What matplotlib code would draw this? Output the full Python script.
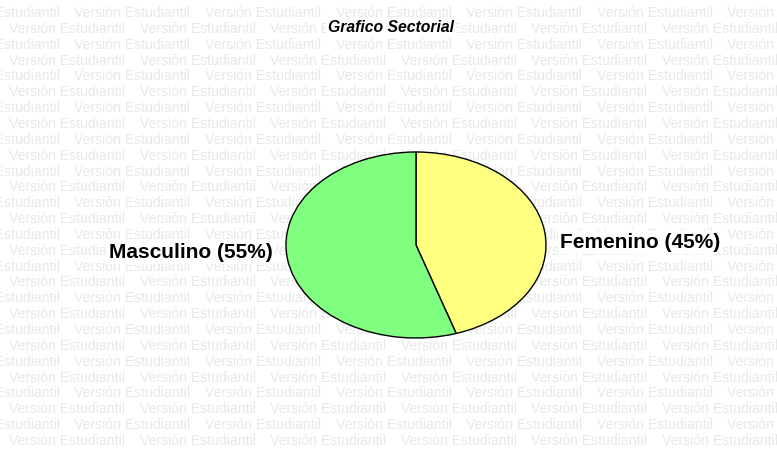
import matplotlib.pyplot as plt

# data
labels = ["Femenino", "Masculino"]
shares = [45, 55]
colors = ["#ffff80", "#80ff80"]
title = "Grafico Sectorial"
watermark = "Versión Estudiantil"

W, H = 777, 453
fig = plt.figure(figsize=(W / 100, H / 100), dpi=100)
fig.patch.set_facecolor("white")

# background watermark, rows alternate by half a period
period, row_h = 130.6, 15.85
for r in range(28):
    y = 13 + r * row_h
    x = 9 - (period / 2 if r % 2 == 0 else 0)
    while x < W:
        fig.text(x / W, 1 - y / H, watermark, fontsize=10.1, color="#e8e8e8",
                 family="Liberation Sans", va="center", ha="left", zorder=-1)
        x += period

box = dict(facecolor="white", edgecolor="none", pad=1.5)
fig.text(391 / W, 1 - 27 / H, title, fontsize=11.3, weight="bold", style="italic",
         family="Liberation Sans", ha="center", va="center", bbox=box)

# elliptical pie: axes box covers the ellipse, aspect left free
ax = fig.add_axes([286 / W, 1 - 338 / H, 260 / W, 186 / H])
wedges, _ = ax.pie(shares, colors=colors, startangle=90, counterclock=False,
                   wedgeprops=dict(edgecolor="black", linewidth=1.0))
for w in wedges:
    w.set_clip_on(False)
ax.set_aspect("auto")
ax.set_xlim(-1, 1)
ax.set_ylim(-1, 1)
ax.axis("off")

ax.text(1.105, 0.03, f"{labels[0]} ({shares[0]}%)", fontsize=15, weight="bold",
        family="Liberation Sans", ha="left", va="center", bbox=box)
ax.text(-1.10, -0.085, f"{labels[1]} ({shares[1]}%)", fontsize=15, weight="bold",
        family="Liberation Sans", ha="right", va="center", bbox=box)

fig.savefig("out.png", dpi=100)
